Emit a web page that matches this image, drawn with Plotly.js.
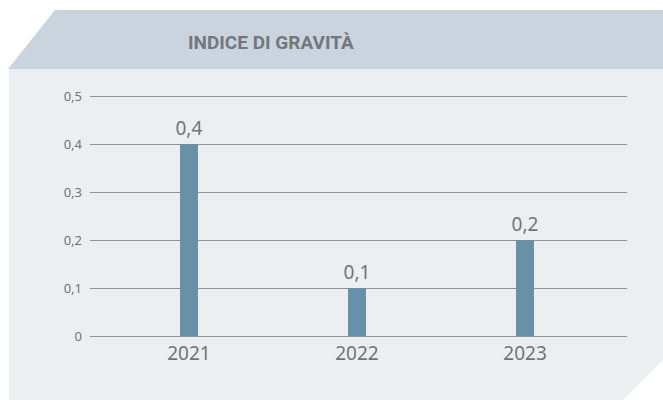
<!DOCTYPE html>
<html>
<head>
<meta charset="utf-8">
<script src="https://cdn.plot.ly/plotly-3.0.1.min.js"></script>
<style>html,body{margin:0;padding:0;background:#fff;}#chart{width:663px;height:400px;}</style>
</head>
<body>
<div id="chart"></div>
<script>
const categories = ["2021", "2022", "2023"];
const values = [0.4, 0.1, 0.2];
const valueLabels = ["0,4", "0,1", "0,2"];
const yTickVals = [0, 0.1, 0.2, 0.3, 0.4, 0.5];
const yTickText = ["0", "0,1", "0,2", "0,3", "0,4", "0,5"];
const chartTitle = "INDICE DI GRAVITÀ";

const W = 663, H = 400, L = 90, R = 36, T = 91, B = 64;
const pw = W - L - R, ph = H - T - B;
function P(px, py) { return ((px - L) / pw).toFixed(4) + "," + ((H - B - py) / ph).toFixed(4); }
function path(pts) { return "M" + pts.map(p => P(p[0], p[1])).join(" L") + " Z"; }

const shapes = [
  {type: "path", xref: "paper", yref: "paper", layer: "below",
   path: path([[9, 69], [663, 69], [663, 360], [623, 400], [9, 400]]),
   fillcolor: "#ebeff2", line: {width: 0}},
  {type: "path", xref: "paper", yref: "paper", layer: "below",
   path: path([[8, 69], [55, 10], [663, 10], [663, 69]]),
   fillcolor: "#cad4de", line: {width: 0}}
];

const trace = {
  type: "bar", x: categories, y: values, text: valueLabels,
  textposition: "outside", cliponaxis: false, width: 0.107,
  constraintext: "none",
  marker: {color: "#6890a8"},
  textfont: {family: "Noto Sans", size: 19, color: "#707478"},
  hoverinfo: "none"
};

const layout = {
  width: W, height: H,
  margin: {l: L, r: R, t: T, b: B, pad: 0},
  paper_bgcolor: "#ffffff", plot_bgcolor: "rgba(0,0,0,0)",
  separators: ",.",
  showlegend: false,
  shapes: shapes,
  annotations: [{
    text: "<b>" + chartTitle + "</b>", xref: "paper", yref: "paper",
    x: ((271 - L) / pw), y: ((H - B - 42) / ph), xanchor: "center", yanchor: "middle",
    showarrow: false, font: {family: "Roboto", size: 19, color: "#73777b"}
  }],
  xaxis: {
    type: "category", range: [-0.589, 2.607], showgrid: false, zeroline: false,
    showline: false, ticks: "", fixedrange: true, ticklabelstandoff: 4,
    tickfont: {family: "Noto Sans", size: 19, color: "#707478"}
  },
  yaxis: {
    range: [0, 0.5 + 5 / 480], tickvals: yTickVals, ticktext: yTickText,
    showgrid: true, gridcolor: "#8e9296", gridwidth: 1,
    zeroline: true, zerolinecolor: "#8e9296", zerolinewidth: 1,
    showline: false, ticks: "", ticklabelstandoff: 7,
    tickfont: {family: "Noto Sans", size: 13, color: "#707478"}, fixedrange: true
  },
  bargap: 0
};

Plotly.newPlot("chart", [trace], layout, {staticPlot: true, displayModeBar: false});
</script>
</body>
</html>
